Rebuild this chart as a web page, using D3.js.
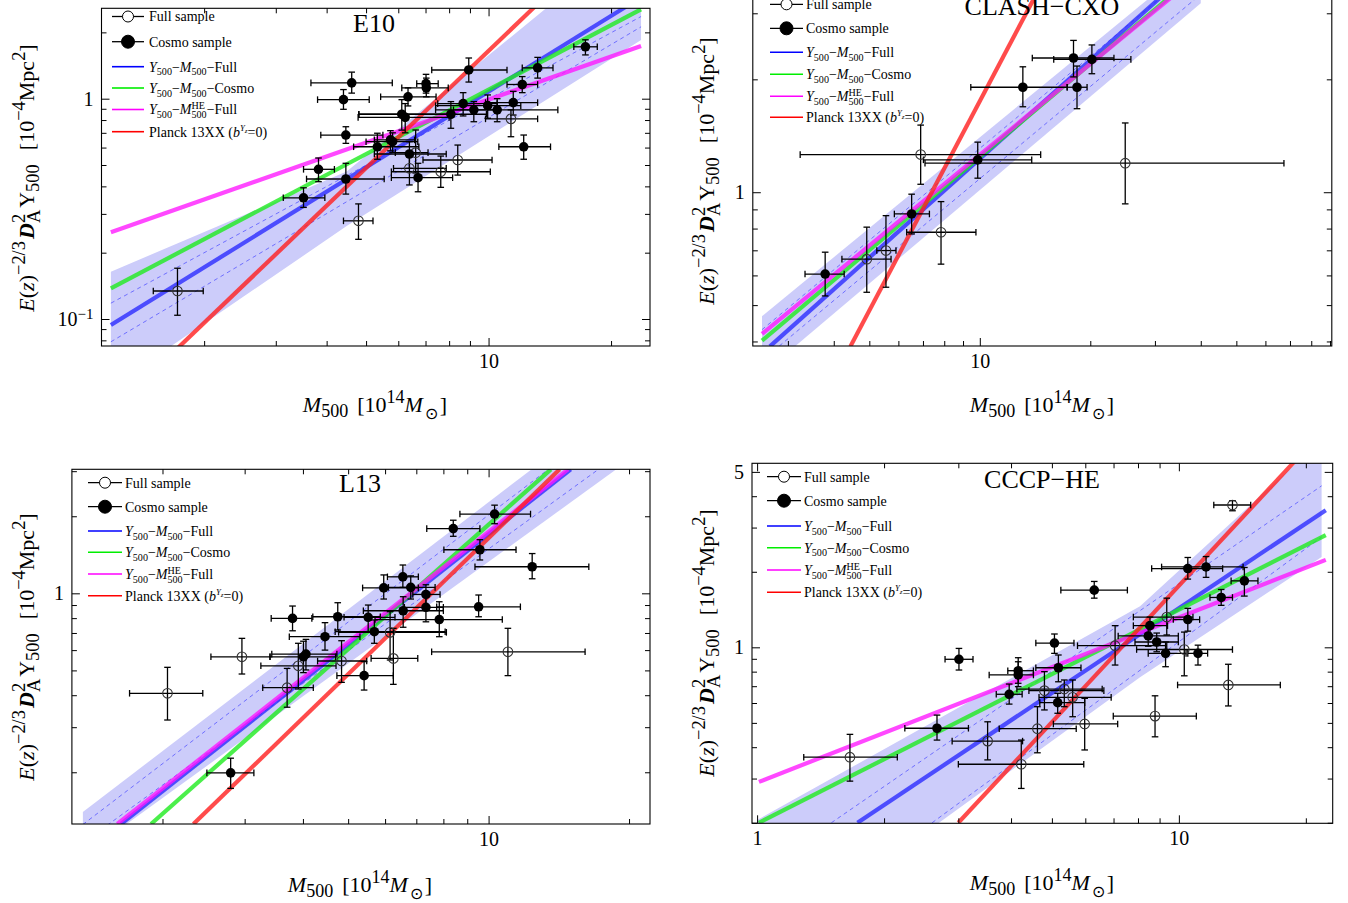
<!DOCTYPE html>
<html>
<head>
<meta charset="utf-8">
<script src="https://cdn.jsdelivr.net/npm/d3@7"></script>
<style>
  body { margin: 0; background: #fff; }
  svg { display: block; }
</style>
</head>
<body>
<svg id="fig" width="1348" height="903"></svg>
<script>
// Points: [M500, M_lo, M_hi, Y, Y_lo, Y_hi]   (M in 1e14 Msun, Y in 1e-4 Mpc^2)
// Fit lines / band edges / dashed lines: [[M, Y], ...]

// ---------- E10 ----------
const e10Cosmo = [
  [4.61, 3.66, 5.80, 1.18, 1.06, 1.32], [4.40, 3.80, 5.09, 0.99, 0.895, 1.10],
  [7.02, 6.66, 7.52, 1.17, 1.06, 1.29], [7.03, 6.12, 7.96, 1.12, 1.02, 1.24],
  [6.34, 5.43, 7.43, 1.02, 0.927, 1.12], [8.94, 7.25, 11.1, 1.35, 1.19, 1.53],
  [13.2, 12.1, 14.4, 1.38, 1.24, 1.54], [17.3, 16.2, 18.5, 1.72, 1.58, 1.85],
  [12.1, 11.1, 13.2, 1.16, 1.065, 1.26], [11.5, 9.83, 13.2, 0.96, 0.843, 1.08],
  [10.5, 7.41, 14.8, 0.89, 0.786, 1.0], [9.95, 7.41, 12.0, 0.93, 0.815, 1.04],
  [9.20, 8.2, 10.4, 0.89, 0.786, 0.97], [8.66, 7.5, 10.5, 0.95, 0.835, 1.065],
  [8.08, 4.80, 9.88, 0.85, 0.734, 0.97], [6.12, 4.8, 7.97, 0.85, 0.72, 0.99],
  [6.24, 4.78, 8.0, 0.823, 0.70, 0.95], [4.46, 3.87, 5.50, 0.684, 0.627, 0.746],
  [5.33, 4.66, 6.74, 0.605, 0.531, 0.697], [5.74, 5.24, 6.58, 0.65, 0.58, 0.716],
  [5.81, 5.0, 6.7, 0.638, 0.57, 0.70], [6.39, 5.24, 7.87, 0.561, 0.483, 0.638],
  [6.71, 5.77, 8.16, 0.438, 0.378, 0.509], [12.2, 10.6, 14.2, 0.605, 0.531, 0.684],
  [3.82, 3.51, 4.18, 0.478, 0.42, 0.538], [4.46, 3.57, 5.54, 0.432, 0.369, 0.509],
  [3.51, 3.13, 3.96, 0.355, 0.321, 0.394]
];
const e10Full = [
  [11.35, 9.83, 13.2, 0.81, 0.672, 0.89], [6.62, 5.9, 7.1, 0.569, 0.46, 0.721],
  [8.40, 6.90, 10.2, 0.527, 0.45, 0.616], [7.63, 5.77, 10.1, 0.466, 0.396, 0.549],
  [6.39, 5.84, 7.87, 0.483, 0.406, 0.555], [4.79, 4.40, 5.20, 0.279, 0.230, 0.333],
  [1.72, 1.50, 1.99, 0.134, 0.104, 0.170]
];
const e10FitFull   = [[1.18, 0.0939], [21.8, 2.62]];
const e10FitCosmo  = [[1.18, 0.1378], [23.7, 2.546]];
const e10FitHE     = [[1.18, 0.2474], [23.7, 1.735]];
const e10Planck    = [[1.72, 0.0736], [13.0, 2.62]];
const e10BandUpper = [[1.18, 0.164], [4.48, 0.467], [23.7, 5.8]];
const e10BandLower = [[1.18, 0.049], [4.48, 0.264], [23.7, 1.847]];
const e10Dash1     = [[1.18, 0.118], [23.7, 2.36]];
const e10Dash2     = [[1.18, 0.0788], [23.7, 2.12]];
const e10XTicks = [2, 3, 4, 5, 6, 7, 8, 9, 10, 20];
const e10XLabels = [10];
const e10YTicks = [0.08, 0.09, 0.1, 0.2, 0.3, 0.4, 0.5, 0.6, 0.7, 0.8, 0.9, 1, 2];
const e10YLabels = [0.1, 1];

// ---------- CLASH-CXO ----------
const clashCosmo = [
  [18.0, 13.9, 23.2, 2.28, 2.03, 2.54], [20.2, 15.9, 25.8, 2.26, 2.07, 2.47],
  [13.1, 9.45, 17.3, 1.905, 1.69, 2.16], [18.4, 17.3, 19.6, 1.905, 1.67, 2.17],
  [9.87, 7.02, 13.85, 1.22, 1.09, 1.36], [6.52, 5.85, 7.29, 0.875, 0.774, 0.988],
  [3.79, 3.34, 4.27, 0.605, 0.529, 0.692]
];
const clashFull = [
  [6.90, 3.24, 14.65, 1.26, 1.05, 1.51], [24.9, 7.09, 67.4, 1.195, 0.931, 1.53],
  [7.84, 6.32, 9.76, 0.782, 0.643, 0.944], [5.55, 5.24, 5.91, 0.699, 0.558, 0.866],
  [4.92, 4.21, 5.73, 0.663, 0.541, 0.807]
];
const clashFitFull   = [[2.68, 0.388], [32.5, 3.44]];
const clashFitCosmo  = [[2.55, 0.402], [34.4, 3.44]];
const clashFitHE     = [[2.55, 0.419], [34.9, 3.44]];
const clashPlanck    = [[4.44, 0.388], [14.4, 3.44]];
const clashBandUpper = [[2.55, 0.467], [40, 4.27]];
const clashBandLower = [[2.55, 0.327], [40, 3.19]];
const clashDash1     = [[2.55, 0.43], [40, 4.05]];
const clashDash2     = [[2.55, 0.356], [40, 3.37]];
const clashXTicks = [3, 4, 5, 6, 7, 8, 9, 10, 20, 30, 40, 50, 60, 70, 80, 90];
const clashXLabels = [10];
const clashYTicks = [0.4, 0.5, 0.6, 0.7, 0.8, 0.9, 1, 2, 3];
const clashYLabels = [1];

// ---------- L13 ----------
const l13Cosmo = [
  [10.3, 8.68, 12.3, 2.04, 1.87, 2.21], [8.40, 7.37, 9.58, 1.79, 1.67, 1.93],
  [9.58, 8.02, 11.45, 1.48, 1.35, 1.62], [12.4, 9.35, 16.4, 1.27, 1.14, 1.43],
  [6.55, 6.07, 7.07, 1.16, 1.055, 1.29], [5.96, 5.37, 7.07, 1.05, 0.95, 1.18],
  [6.81, 6.10, 7.68, 1.055, 0.95, 1.17], [7.34, 6.88, 7.87, 0.99, 0.892, 1.08],
  [7.34, 6.60, 8.00, 0.882, 0.774, 0.97], [9.52, 7.74, 11.7, 0.886, 0.81, 0.985],
  [6.56, 5.39, 8.0, 0.855, 0.737, 0.97], [7.84, 5.71, 10.7, 0.79, 0.677, 0.927],
  [5.52, 4.9, 6.3, 0.806, 0.708, 0.90], [4.75, 4.2, 5.86, 0.81, 0.719, 0.919],
  [3.80, 3.42, 4.18, 0.798, 0.714, 0.892], [4.46, 3.74, 5.30, 0.677, 0.60, 0.768],
  [5.69, 4.69, 8.07, 0.708, 0.638, 0.787], [4.06, 3.43, 4.73, 0.579, 0.502, 0.661],
  [4.01, 3.40, 4.70, 0.565, 0.49, 0.65], [5.41, 4.73, 6.25, 0.477, 0.419, 0.541],
  [2.80, 2.49, 3.14, 0.199, 0.173, 0.227]
];
const l13Full = [
  [11.0, 7.55, 16.1, 0.591, 0.477, 0.73], [6.25, 5.6, 7.05, 0.557, 0.441, 0.73],
  [6.15, 4.77, 8.12, 0.704, 0.549, 0.848], [4.84, 4.30, 5.48, 0.544, 0.449, 0.653],
  [3.91, 3.25, 4.71, 0.521, 0.423, 0.638], [3.70, 3.28, 4.21, 0.428, 0.359, 0.509],
  [2.96, 2.54, 3.40, 0.565, 0.484, 0.667], [2.05, 1.70, 2.44, 0.407, 0.32, 0.514]
];
const l13FitFull   = [[1.63, 0.1256], [15.0, 3.05]];
const l13FitCosmo  = [[1.89, 0.1256], [13.6, 3.05]];
const l13FitHE     = [[1.60, 0.1256], [14.8, 3.05]];
const l13Planck    = [[2.33, 0.1256], [14.2, 3.05]];
const l13BandUpper = [[1.35, 0.140], [22, 6.8]];
const l13BandLower = [[1.35, 0.0944], [22, 3.76]];
const l13Dash1     = [[1.35, 0.125], [22, 6.06]];
const l13Dash2     = [[1.35, 0.106], [22, 4.22]];
const l13XTicks = [2, 3, 4, 5, 6, 7, 8, 9, 10, 20];
const l13XLabels = [10];
const l13YTicks = [0.2, 0.3, 0.4, 0.5, 0.6, 0.7, 0.8, 0.9, 1, 2, 3];
const l13YLabels = [1];

// ---------- CCCP-HE ----------
const cccpCosmo = [
  [10.5, 8.62, 12.7, 2.06, 1.87, 2.28], [11.6, 9.1, 14.2, 2.09, 1.90, 2.30],
  [14.3, 13.3, 15.4, 1.84, 1.60, 2.08], [12.6, 11.85, 13.4, 1.58, 1.47, 1.70],
  [6.30, 5.25, 7.55, 1.69, 1.57, 1.83], [10.5, 9.7, 11.2, 1.29, 1.16, 1.43],
  [8.54, 7.8, 9.4, 1.22, 1.12, 1.32], [8.46, 7.18, 9.97, 1.11, 1.01, 1.21],
  [8.86, 7.87, 9.97, 1.05, 0.96, 1.14], [9.30, 8.46, 10.4, 0.946, 0.837, 1.05],
  [11.1, 10.5, 11.7, 0.946, 0.85, 1.02], [5.07, 4.58, 5.64, 1.04, 0.946, 1.13],
  [3.01, 2.79, 3.25, 0.896, 0.812, 0.99], [4.16, 3.93, 4.52, 0.807, 0.719, 0.909],
  [4.16, 3.55, 4.52, 0.776, 0.697, 0.876], [5.18, 4.58, 5.86, 0.829, 0.729, 0.932],
  [3.96, 3.69, 4.25, 0.65, 0.594, 0.714], [5.16, 4.68, 5.98, 0.602, 0.546, 0.656],
  [2.67, 2.24, 3.17, 0.476, 0.427, 0.537]
];
const cccpFull = [
  [13.4, 12.1, 14.8, 3.69, 3.50, 3.84], [7.06, 5.75, 9.36, 1.015, 0.85, 1.22],
  [9.36, 7.8, 10.8, 1.32, 1.12, 1.57], [10.3, 7.94, 13.4, 0.98, 0.77, 1.15],
  [13.1, 9.93, 17.4, 0.708, 0.584, 0.856], [8.78, 6.99, 11.0, 0.532, 0.44, 0.641],
  [5.35, 4.13, 6.58, 0.682, 0.58, 0.741], [4.80, 4.41, 6.64, 0.672, 0.563, 0.80],
  [5.60, 4.66, 6.91, 0.632, 0.529, 0.741], [5.98, 5.04, 7.16, 0.495, 0.39, 0.626],
  [4.62, 3.75, 5.71, 0.474, 0.38, 0.58], [3.52, 2.90, 4.26, 0.423, 0.356, 0.505],
  [4.23, 3.00, 5.95, 0.342, 0.274, 0.427], [1.66, 1.29, 2.15, 0.365, 0.293, 0.45]
];
const cccpFitFull   = [[1.73, 0.2], [22.3, 3.52]];
const cccpFitCosmo  = [[1.01, 0.2], [22.3, 2.80]];
const cccpFitHE     = [[1.01, 0.291], [22.3, 2.23]];
const cccpPlanck    = [[3.0, 0.2], [18.8, 5.5]];
const cccpBandUpper = [[1.0, 0.205], [8.09, 1.457], [21.8, 6.71]];
const cccpBandLower = [[1.0, 0.06], [2.70, 0.2], [8.09, 0.76], [21.8, 2.29]];
const cccpDash1     = [[1.5, 0.2], [21.8, 4.4]];
const cccpDash2     = [[2.6, 0.2], [21.8, 2.75]];
const cccpXTicks = [1, 2, 3, 4, 5, 6, 7, 8, 9, 10, 20];
const cccpXLabels = [1, 10];
const cccpYTicks = [0.2, 0.3, 0.4, 0.5, 0.6, 0.7, 0.8, 0.9, 1, 2, 3, 4, 5];
const cccpYLabels = [1, 5];

// ---------- drawing ----------
const SERIF = "'Liberation Serif','Times New Roman',serif";
const svg = d3.select("#fig").attr("font-family", SERIF);
const defs = svg.append("defs");

// Text with italic / sub / sup runs. stack: sit over/under the previous run.
function richText(parent, x, y, parts, size, opts = {}) {
  const t = parent.append("text").attr("x", x).attr("y", y)
    .attr("font-size", size).attr("fill", "#000");
  if (opts.anchor) t.attr("text-anchor", opts.anchor);
  if (opts.transform) t.attr("transform", opts.transform);
  const k = opts.k || 0.8;
  let cur = 0, prev = null, pending = 0;
  parts.forEach(p => {
    const fs = p.s ? size * (p.k || k) : size;
    let off = p.s === "sub" ? size * 0.28 : p.s === "sup" ? -size * 0.42 : 0;
    if (p.off !== undefined) off = p.off * size;
    const ts = t.append("tspan").attr("font-size", fs).attr("dy", off - cur).text(p.t);
    if (p.i) ts.attr("font-style", "italic");
    if (p.b) ts.attr("font-weight", "bold");
    let dx = (p.dx || 0) + pending;
    pending = 0;
    if (p.stack && prev) {
      const wPrev = prev.node().getComputedTextLength();
      dx -= wPrev;
      const wThis = ts.node().getComputedTextLength();
      if (wPrev > wThis) pending = wPrev - wThis;
    }
    if (dx) ts.attr("dx", dx);
    cur = off; prev = ts;
  });
  return t;
}

const fitStyles = [
  { key: "fitFull",  color: "rgba(40,40,255,0.78)" },
  { key: "fitCosmo", color: "rgba(30,235,30,0.8)" },
  { key: "fitHE",    color: "rgba(255,20,255,0.78)" },
  { key: "planck",   color: "rgba(255,30,30,0.8)" }
];

function legendParts(which) {
  const yPart = [{ t: "Y", i: true }, { t: "500", s: "sub" }, { t: "\u2212" }, { t: "M", i: true }];
  if (which === 0) return yPart.concat([{ t: "500", s: "sub" }, { t: "\u2212Full" }]);
  if (which === 1) return yPart.concat([{ t: "500", s: "sub" }, { t: "\u2212Cosmo" }]);
  if (which === 2) return yPart.concat([{ t: "HE", s: "sup", off: -0.36 }, { t: "500", s: "sub", stack: true }, { t: "\u2212Full" }]);
  return [{ t: "Planck 13XX (" }, { t: "b", i: true }, { t: "Y", s: "sup", i: true, k: 0.62 },
          { t: "z", s: "sup", i: true, k: 0.5, off: -0.22 }, { t: "=0)" }];
}

function tickLabel(sel, d) {
  if (d === 0.1) {
    sel.text("10").append("tspan").attr("dy", "-0.45em").attr("font-size", 15).text("\u22121");
  }
}

function drawPanel(c, idx) {
  const x = d3.scaleLog().domain(c.xDom).range([c.x0, c.x1]);
  const y = d3.scaleLog().domain(c.yDom).range([c.y1, c.y0]);
  const g = svg.append("g");
  const clipId = "plotclip" + idx;
  defs.append("clipPath").attr("id", clipId).append("rect")
    .attr("x", c.x0).attr("y", c.y0).attr("width", c.x1 - c.x0).attr("height", c.y1 - c.y0);
  const plot = g.append("g").attr("clip-path", `url(#${clipId})`);
  const line = d3.line().x(d => x(d[0])).y(d => y(d[1]));

  // confidence band
  plot.append("path")
    .attr("d", line(c.bandUpper.concat(c.bandLower.slice().reverse())) + "Z")
    .attr("fill", "rgb(204,204,250)");
  [c.dash1, c.dash2].forEach(dl => plot.append("path").attr("d", line(dl))
    .attr("fill", "none").attr("stroke", "#6464ff").attr("stroke-width", 0.9)
    .attr("stroke-dasharray", "4,3.5"));

  // scaling relations
  fitStyles.forEach(s => plot.append("path").attr("d", line(c[s.key]))
    .attr("fill", "none").attr("stroke", s.color).attr("stroke-width", 4.2));

  // error bars + markers
  const cap = 3.3;
  const pts = g.append("g").attr("stroke", "#000").attr("stroke-width", 1.3);
  const allPts = c.full.map(d => ({ d, open: true })).concat(c.cosmo.map(d => ({ d, open: false })));
  allPts.forEach(({ d }) => {
    const px = x(d[0]), py = y(d[3]);
    const xl = x(d[1]), xr = x(d[2]), yb = y(d[4]), yt = y(d[5]);
    pts.append("line").attr("x1", xl).attr("x2", xr).attr("y1", py).attr("y2", py);
    pts.append("line").attr("x1", xl).attr("x2", xl).attr("y1", py - cap).attr("y2", py + cap);
    pts.append("line").attr("x1", xr).attr("x2", xr).attr("y1", py - cap).attr("y2", py + cap);
    pts.append("line").attr("x1", px).attr("x2", px).attr("y1", yb).attr("y2", yt);
    pts.append("line").attr("x1", px - cap).attr("x2", px + cap).attr("y1", yb).attr("y2", yb);
    pts.append("line").attr("x1", px - cap).attr("x2", px + cap).attr("y1", yt).attr("y2", yt);
  });
  allPts.forEach(({ d, open }) => {
    g.append("circle").attr("cx", x(d[0])).attr("cy", y(d[3])).attr("r", 4.8)
      .attr("fill", open ? "none" : "#000").attr("stroke", open ? "#333" : "none")
      .attr("stroke-width", 1.1);
  });

  // frame
  g.append("rect").attr("x", c.x0).attr("y", c.y0).attr("width", c.x1 - c.x0)
    .attr("height", c.y1 - c.y0).attr("fill", "none").attr("stroke", "#000").attr("stroke-width", 1.1);

  // ticks on four sides, pointing inward
  const sides = [
    { gen: d3.axisBottom(x), tr: `translate(0,${c.y1})`, ticks: c.xTicks, maj: c.xLabels, lab: true, attr: "y2", sgn: -1 },
    { gen: d3.axisTop(x), tr: `translate(0,${c.y0})`, ticks: c.xTicks, maj: c.xLabels, lab: false, attr: "y2", sgn: 1 },
    { gen: d3.axisLeft(y), tr: `translate(${c.x0},0)`, ticks: c.yTicks, maj: c.yLabels, lab: true, attr: "x2", sgn: 1 },
    { gen: d3.axisRight(y), tr: `translate(${c.x1},0)`, ticks: c.yTicks, maj: c.yLabels, lab: false, attr: "x2", sgn: -1 }
  ];
  sides.forEach(s => {
    const ag = g.append("g").attr("transform", s.tr)
      .call(s.gen.tickValues(s.ticks).tickSize(-5).tickPadding(8)
        .tickFormat(d => (s.lab && s.maj.includes(d) && d !== 0.1) ? String(d) : ""));
    ag.select(".domain").remove();
    ag.attr("font-family", SERIF).attr("font-size", 20);
    ag.selectAll(".tick line").attr(s.attr, d => s.sgn * (s.maj.includes(d) ? 8 : 5))
      .attr("stroke", "#000").attr("stroke-width", 1);
    ag.selectAll(".tick text").attr("fill", "#000");
    if (s.lab) ag.selectAll(".tick text").each(function (d) { tickLabel(d3.select(this), d); });
  });

  // title
  g.append("text").attr("x", c.titleX).attr("y", c.titleY).attr("text-anchor", "middle")
    .attr("font-size", 26).attr("fill", "#000").text(c.title);

  // legend
  const lg = g.append("g");
  const lx0 = c.legX0, lx1 = c.legX1, lxm = (lx0 + lx1) / 2;
  c.legY.forEach((ly, i) => {
    if (i < 2) {
      lg.append("line").attr("x1", lx0).attr("x2", lx1).attr("y1", ly).attr("y2", ly)
        .attr("stroke", "#000").attr("stroke-width", 1.3);
      lg.append("circle").attr("cx", lxm).attr("cy", ly).attr("r", i === 0 ? 5.5 : 6.5)
        .attr("fill", i === 0 ? "#fff" : "#000").attr("stroke", "#000").attr("stroke-width", 1);
      lg.append("text").attr("x", c.legTextX).attr("y", ly + 4.8).attr("font-size", 14)
        .attr("fill", "#000").text(i === 0 ? "Full sample" : "Cosmo sample");
    } else {
      const col = ["#0000ff", "#00ee00", "#ff00ff", "#ff0000"][i - 2];
      lg.append("line").attr("x1", lx0).attr("x2", lx1).attr("y1", ly).attr("y2", ly)
        .attr("stroke", col).attr("stroke-width", 1.6);
      richText(lg, c.legTextX, ly + 4.8, legendParts(i - 2), 14, { k: 0.72 });
    }
  });

  // axis titles
  richText(g, c.xLabX, c.xLabY, [
    { t: "M", i: true }, { t: "500", s: "sub", off: 0.22 },
    { t: "[10", dx: 9 }, { t: "14", s: "sup" }, { t: "M", i: true },
    { t: "\u2299", s: "sub", off: 0.32, k: 0.72, dx: 2 }, { t: "]", dx: 2 }
  ], 22, { anchor: "middle", k: 0.82 });
  richText(g, -c.yLabY, c.yLabX, [
    { t: "E", i: true }, { t: "(" }, { t: "z", i: true }, { t: ")" },
    { t: "\u22122/3", s: "sup" }, { t: "D", i: true, b: true, dx: 2 },
    { t: "A", s: "sub" }, { t: "2", s: "sup", stack: true }, { t: "Y", dx: 2 },
    { t: "500", s: "sub", off: 0.22 }, { t: "[10", dx: 14 }, { t: "\u22124", s: "sup" },
    { t: "Mpc" }, { t: "2", s: "sup" }, { t: "]" }
  ], 22, { anchor: "middle", k: 0.84, transform: "rotate(-90)" });
}

const panels = [
  { x0: 101.5, x1: 650, y0: 8.3, y1: 346, xDom: [1.119, 24.93], yDom: [0.07542, 2.572],
    xTicks: e10XTicks, xLabels: e10XLabels, yTicks: e10YTicks, yLabels: e10YLabels,
    cosmo: e10Cosmo, full: e10Full, fitFull: e10FitFull, fitCosmo: e10FitCosmo, fitHE: e10FitHE,
    planck: e10Planck, bandUpper: e10BandUpper, bandLower: e10BandLower, dash1: e10Dash1, dash2: e10Dash2,
    title: "E10", titleX: 374, titleY: 32,
    legX0: 112, legX1: 144, legTextX: 149, legY: [16.5, 41.7, 66.7, 88, 109.5, 131.7],
    xLabX: 375, xLabY: 412, yLabX: 34, yLabY: 178 },
  { x0: 752.8, x1: 1331.8, y0: -9, y1: 346, xDom: [2.407, 91.0], yDom: [0.389, 3.44],
    xTicks: clashXTicks, xLabels: clashXLabels, yTicks: clashYTicks, yLabels: clashYLabels,
    cosmo: clashCosmo, full: clashFull, fitFull: clashFitFull, fitCosmo: clashFitCosmo, fitHE: clashFitHE,
    planck: clashPlanck, bandUpper: clashBandUpper, bandLower: clashBandLower, dash1: clashDash1, dash2: clashDash2,
    title: "CLASH\u2212CXO", titleX: 1042, titleY: 15,
    legX0: 770, legX1: 803, legTextX: 806, legY: [4.3, 28.3, 52.3, 74.3, 96.3, 117.3],
    xLabX: 1042, xLabY: 412, yLabX: 714, yLabY: 171 },
  { x0: 71.9, x1: 650, y0: 469.3, y1: 824, xDom: [1.279, 22.18], yDom: [0.1256, 3.051],
    xTicks: l13XTicks, xLabels: l13XLabels, yTicks: l13YTicks, yLabels: l13YLabels,
    cosmo: l13Cosmo, full: l13Full, fitFull: l13FitFull, fitCosmo: l13FitCosmo, fitHE: l13FitHE,
    planck: l13Planck, bandUpper: l13BandUpper, bandLower: l13BandLower, dash1: l13Dash1, dash2: l13Dash2,
    title: "L13", titleX: 360, titleY: 492,
    legX0: 88, legX1: 122, legTextX: 125, legY: [482.7, 506.7, 531, 552.3, 574, 595.7],
    xLabX: 360, xLabY: 892, yLabX: 34, yLabY: 647 },
  { x0: 752, x1: 1332.7, y0: 463.3, y1: 823.3, xDom: [0.9725, 23.16], yDom: [0.199, 5.41],
    xTicks: cccpXTicks, xLabels: cccpXLabels, yTicks: cccpYTicks, yLabels: cccpYLabels,
    cosmo: cccpCosmo, full: cccpFull, fitFull: cccpFitFull, fitCosmo: cccpFitCosmo, fitHE: cccpFitHE,
    planck: cccpPlanck, bandUpper: cccpBandUpper, bandLower: cccpBandLower, dash1: cccpDash1, dash2: cccpDash2,
    title: "CCCP\u2212HE", titleX: 1042, titleY: 488,
    legX0: 767, legX1: 801, legTextX: 804, legY: [476.7, 500.7, 526, 547.7, 570, 592.3],
    xLabX: 1042, xLabY: 890, yLabX: 714, yLabY: 643 }
];
panels.forEach(drawPanel);
</script>
</body>
</html>
